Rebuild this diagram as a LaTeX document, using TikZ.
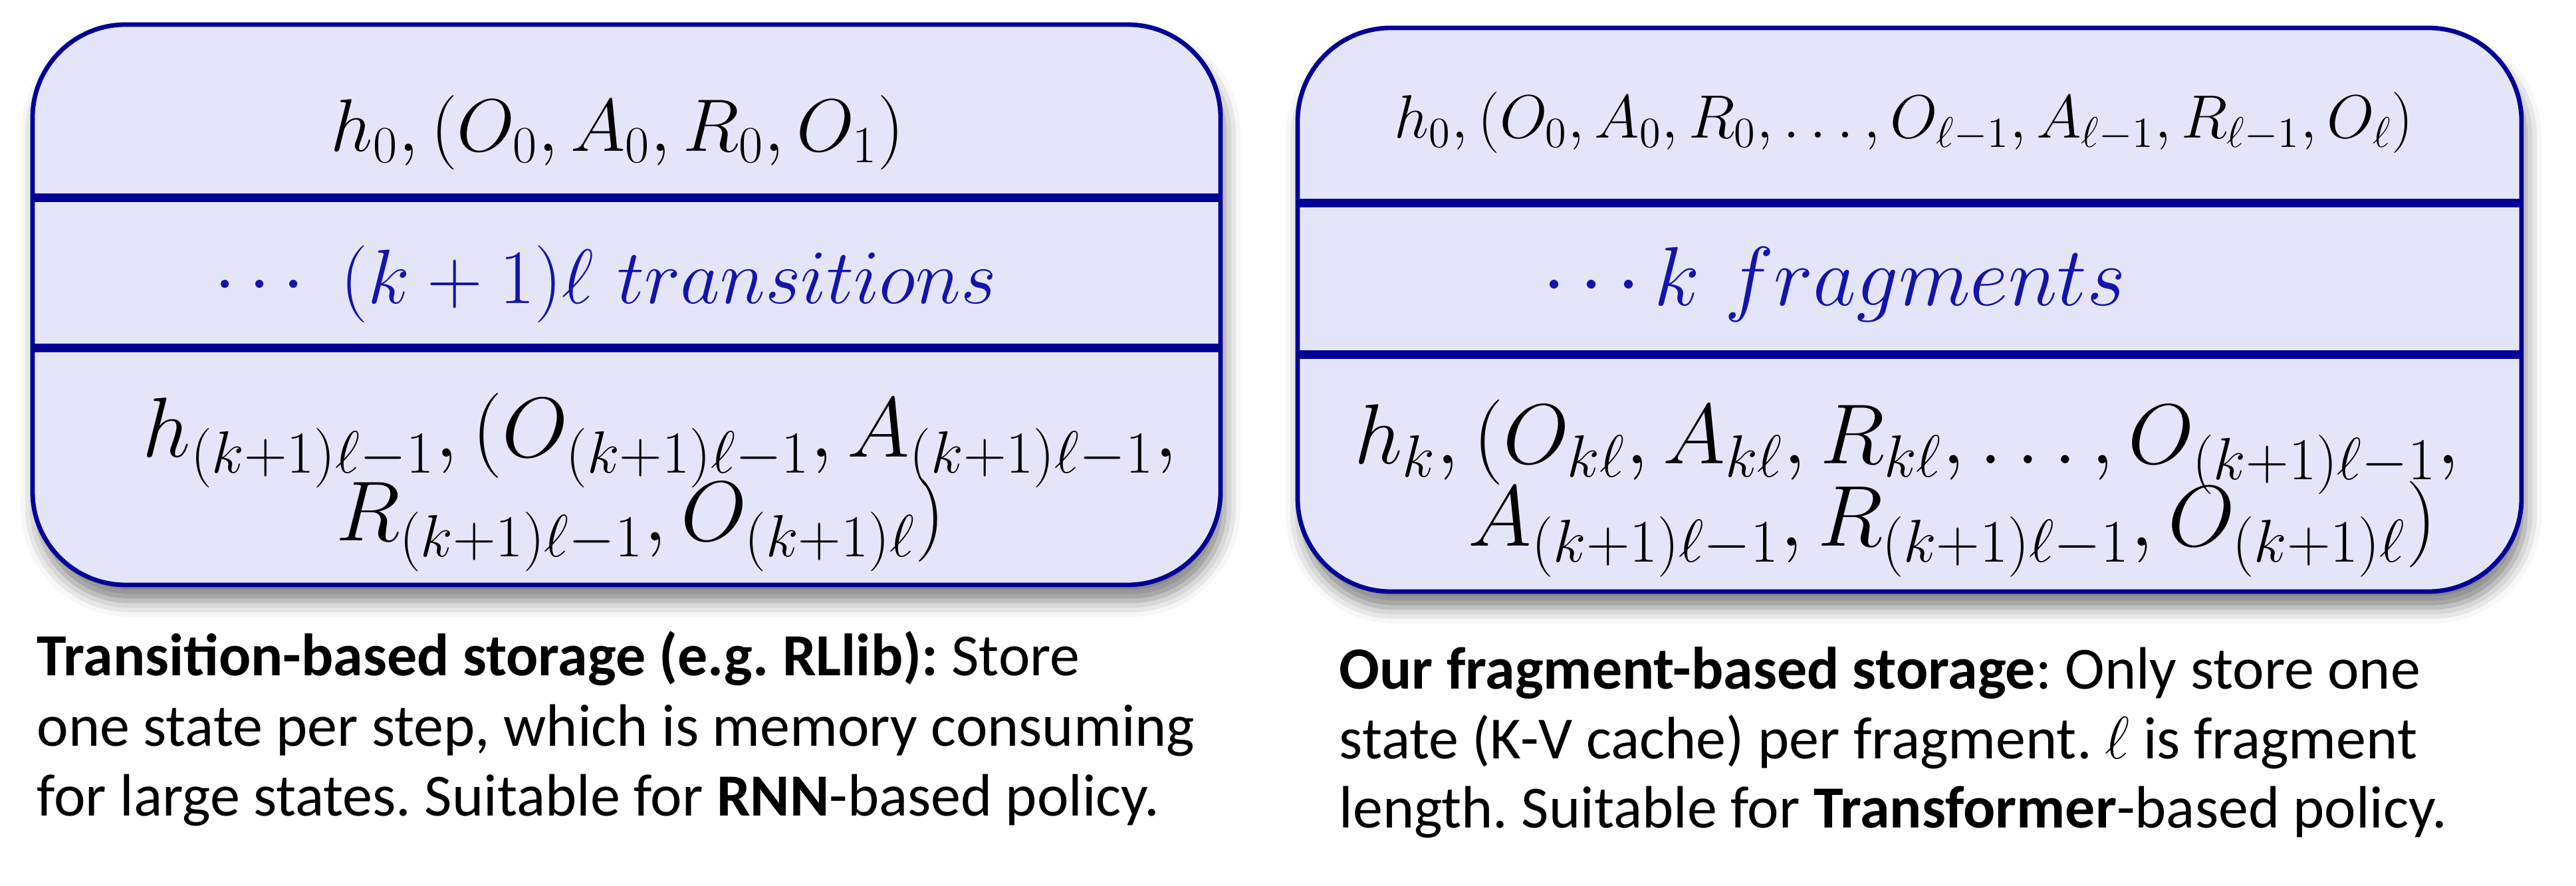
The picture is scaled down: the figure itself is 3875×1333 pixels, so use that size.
\RequirePackage{fix-cm}
\documentclass[tikz,border=0pt]{standalone}
\usepackage{fontspec}
\newfontfamily\capfont{Carlito}
\usetikzlibrary{shadows.blur}
\definecolor{boxfill}{RGB}{229,229,250}
\definecolor{boxline}{RGB}{0,0,150}
\definecolor{midblue}{RGB}{20,20,170}
\frenchspacing
\begin{document}
\begin{tikzpicture}[x=0.25pt,y=-0.25pt,
  panel/.style={draw=boxline, fill=boxfill, line width=1.7pt, rounded corners=35pt,
    blur shadow={shadow xshift=1.5pt, shadow yshift=-6pt, shadow blur radius=6pt, shadow opacity=50}},
  divider/.style={draw=boxline, line width=3.25pt},
  mtxt/.style={anchor=base, inner sep=0pt},
  captxt/.style={anchor=base west, inner sep=0pt, align=left}]
\useasboundingbox (0,0) rectangle (3875,1333);
% left panel
\draw[panel] (49,37) rectangle (1836,880);
\draw[divider] (49,298) -- (1836,298);
\draw[divider] (49,524) -- (1836,524);
% right panel
\draw[panel] (1952,42) rectangle (3793,890);
\draw[divider] (1952,306) -- (3793,306);
\draw[divider] (1952,534) -- (3793,534);
% left texts
\node[mtxt, font=\fontsize{28}{34}\selectfont] (lt) at (929,228) {$h_0,(O_0,A_0,R_0,O_1)$};
\node[mtxt, font=\fontsize{29}{34}\selectfont, text=midblue] (lm) at (911,457) {$\cdots\ (k+1)\ell\ transitions$};
\node[mtxt, font=\fontsize{32}{38}\selectfont] (lb1) at (993,688) {$h_{(k+1)\ell-1},(O_{(k+1)\ell-1},A_{(k+1)\ell-1},$};
\node[mtxt, font=\fontsize{32}{38}\selectfont] (lb2) at (964,814) {$R_{(k+1)\ell-1},O_{(k+1)\ell})$};
% right texts
\node[mtxt, font=\fontsize{23}{28}\selectfont] (rt) at (2864,208) {$h_0,(O_0,A_0,R_0,\dots,O_{\ell-1},A_{\ell-1},R_{\ell-1},O_\ell)$};
\node[mtxt, font=\fontsize{31.5}{36}\selectfont, text=midblue] (rm) at (2759,460) {$\cdots k\ fragments$};
\node[mtxt, font=\fontsize{32}{38}\selectfont] (rb1) at (2869,698) {$h_k,(O_{k\ell},A_{k\ell},R_{k\ell},\dots,O_{(k+1)\ell-1},$};
\node[mtxt, font=\fontsize{32.5}{38}\selectfont] (rb2) at (2937,822) {$A_{(k+1)\ell-1},R_{(k+1)\ell-1},O_{(k+1)\ell})$};
% captions (anchor = baseline of last line)
\node[captxt, font=\capfont\fontsize{22.5}{26.4}\selectfont] (lcap) at (55,1228)
  {\textbf{Transition-based storage (e.g. RLlib):} Store\\
   one state per step, which is memory consuming\\
   for large states. Suitable for \textbf{RNN}-based policy.};
\node[captxt, font=\capfont\fontsize{22.5}{26.2}\selectfont] (rcap) at (2014,1246)
  {\textbf{Our fragment-based storage}: Only store one\\
   state (K-V cache) per fragment. $\ell$ is fragment\\
   length. Suitable for \textbf{Transformer}-based policy.};
\end{tikzpicture}
\end{document}
